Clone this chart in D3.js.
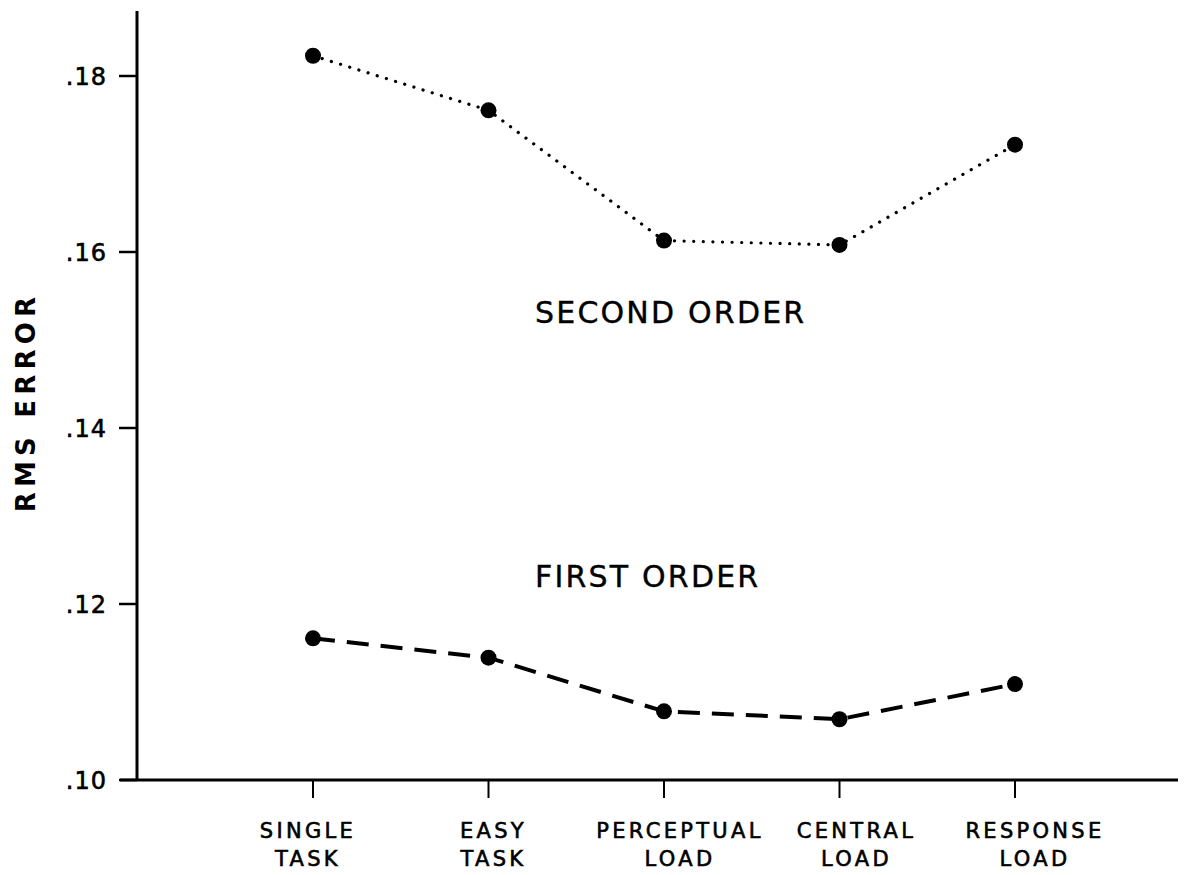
<!DOCTYPE html>
<html><head><meta charset="utf-8">
<script src="https://cdn.jsdelivr.net/npm/d3@7"></script>
<style>
body{margin:0;background:#fff;}
text{font-family:"DejaVu Sans","Liberation Sans",sans-serif;fill:#000;}
</style></head>
<body><svg id="c" width="1185" height="875"></svg>
<script>
const categories = [["SINGLE","TASK"],["EASY","TASK"],["PERCEPTUAL","LOAD"],["CENTRAL","LOAD"],["RESPONSE","LOAD"]];
const secondOrder = [0.1823, 0.1761, 0.1613, 0.1608, 0.1722];
const firstOrder = [0.1161, 0.1139, 0.1078, 0.1069, 0.1109];
const yTicks = [0.10, 0.12, 0.14, 0.16, 0.18];
const yTickLabels = [".10", ".12", ".14", ".16", ".18"];

const svg = d3.select("#c");
const keys = categories.map(d => d.join(" "));
const x = d3.scalePoint().domain(keys).range([313, 1015]);
const y = d3.scaleLinear().domain([0.10, 0.18]).range([780, 76]);
// hand-lettered labels sit slightly off their ticks
const labelNudge = [-5, 5, 16, 17, 20];

// axes lines
svg.append("line").attr("x1",137).attr("x2",137).attr("y1",11).attr("y2",780).attr("stroke","#000").attr("stroke-width",3);
svg.append("line").attr("x1",120).attr("x2",1178).attr("y1",780).attr("y2",780).attr("stroke","#000").attr("stroke-width",3);

// y ticks
const yAxis = svg.append("g");
yTicks.forEach((t,i)=>{
  yAxis.append("line").attr("x1",119).attr("x2",137).attr("y1",y(t)).attr("y2",y(t)).attr("stroke","#000").attr("stroke-width",2.5);
  yAxis.append("text").attr("x",107).attr("y",y(t)).attr("dy","0.36em").attr("text-anchor","end")
    .attr("font-size",24).attr("letter-spacing",1).attr("stroke","#000").attr("stroke-width",0.6).text(yTickLabels[i]);
});

// x ticks
const xAxis = svg.append("g");
categories.forEach((c,i)=>{
  const k = keys[i];
  xAxis.append("line").attr("x1",x(k)).attr("x2",x(k)).attr("y1",780).attr("y2",798).attr("stroke","#000").attr("stroke-width",2);
  c.forEach((s,j)=>{
    xAxis.append("text").attr("x",x(k)+labelNudge[i]).attr("y",838+j*28).attr("text-anchor","middle")
      .attr("font-size",21).attr("letter-spacing",3.3).attr("stroke","#000").attr("stroke-width",0.6).text(s);
  });
});

// axis title
svg.append("text").attr("transform","translate(35,402) rotate(-90)").attr("text-anchor","middle")
  .attr("font-size",26).attr("font-weight","bold").attr("letter-spacing",5.2).text("RMS ERROR");

const line = d3.line().x((d,i)=>x(keys[i])).y(d=>y(d));

svg.append("path").datum(secondOrder).attr("d",line).attr("fill","none").attr("stroke","#000")
  .attr("stroke-width",3.2).attr("stroke-linecap","round").attr("stroke-dasharray","0.1 9.5");
svg.append("path").datum(firstOrder).attr("d",line).attr("fill","none").attr("stroke","#000")
  .attr("stroke-width",4).attr("stroke-dasharray","22 12");

[secondOrder, firstOrder].forEach(s=>{
  svg.append("g").selectAll("circle").data(s).join("circle")
    .attr("cx",(d,i)=>x(keys[i])).attr("cy",d=>y(d)).attr("r",8).attr("fill","#000");
});

svg.append("text").attr("x",535).attr("y",323).attr("font-size",30).attr("letter-spacing",2.2).attr("stroke","#000").attr("stroke-width",0.4).text("SECOND ORDER");
svg.append("text").attr("x",535).attr("y",587).attr("font-size",30).attr("letter-spacing",2.2).attr("stroke","#000").attr("stroke-width",0.4).text("FIRST ORDER");
</script></body></html>
